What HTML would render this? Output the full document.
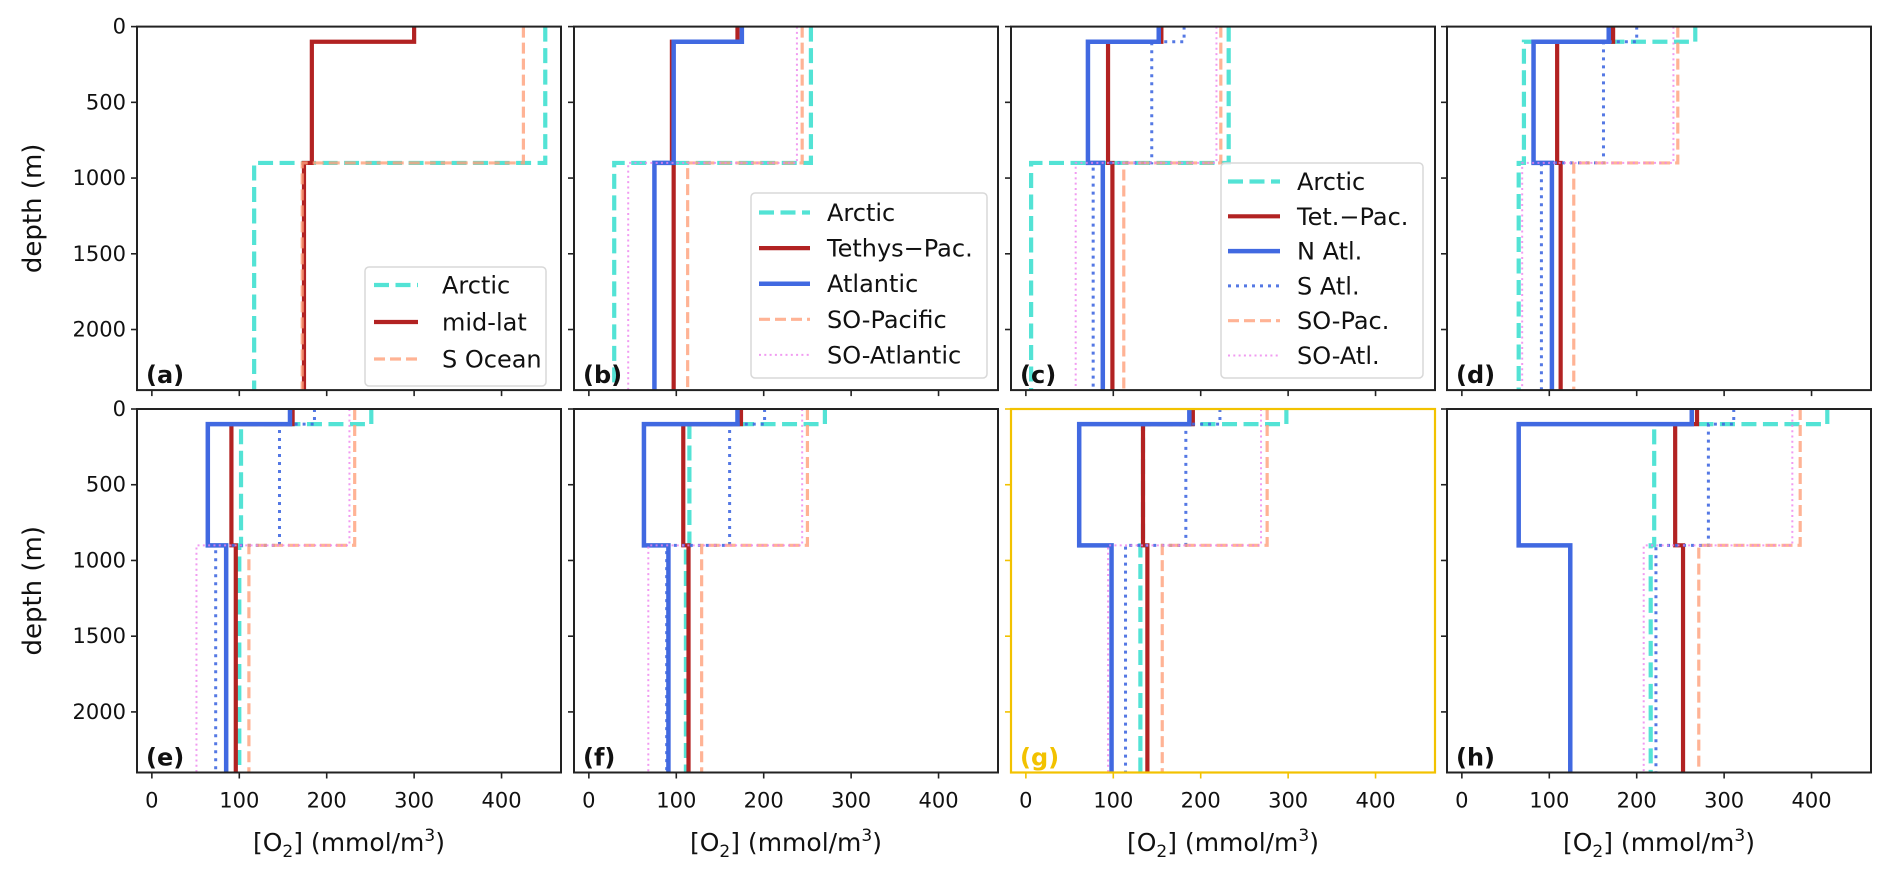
<!DOCTYPE html>
<html><head><meta charset="utf-8">
<style>
html,body{margin:0;padding:0;background:#fff;}
svg{display:block;font-family:"DejaVu Sans","Liberation Sans",sans-serif;}
</style></head>
<body>
<svg id="fig" width="1892" height="875" viewBox="0 0 1892 875" xmlns="http://www.w3.org/2000/svg"></svg>
<script>
// ---- data (per panel a..h) ----
const panelLabels = ["(a)","(b)","(c)","(d)","(e)","(f)","(g)","(h)"];
const xTicks = [0,100,200,300,400];
const yTicks = [0,500,1000,1500,2000];
const layerDepths = [0,100,900,2400];
const arcticSurf = [450,254,232,267,251,270,298,418];
const arcticMid  = [450,254,232,71,102,115,134,220];
const arcticDeep = [117,29,6,65,100,111,131,216];
const redSurf = [300,170,155,173,161,174,191,269];
const redMid  = [183,95,94,109,91,108,134,244];
const redDeep = [174,97,99,113,96,114,139,253];
const blueSurf = [null,175,152,168,158,170,187,263];
const blueMid  = [null,97,71,82,64,63,61,65];
const blueDeep = [null,75,88,103,85,91,98,124];
const satlSurf = [null,null,181,200,186,201,222,311];
const satlMid  = [null,null,144,162,146,161,183,282];
const satlDeep = [null,null,77,91,73,89,114,222];
const sopacSurf = [425,244,223,247,232,250,276,387];
const sopacMid  = [425,244,223,247,232,250,276,387];
const sopacDeep = [172,113,112,128,111,129,156,271];
const soatlSurf = [null,238,218,242,226,244,269,378];
const soatlMid  = [null,238,218,242,226,244,269,378];
const soatlDeep = [null,45,57,69,51,68,94,208];
const legendA = ["Arctic","mid-lat","S Ocean"];
const legendB = ["Arctic","Tethys\u2212Pac.","Atlantic","SO-Pacific","SO-Atlantic"];
const legendC = ["Arctic","Tet.\u2212Pac.","N Atl.","S Atl.","SO-Pac.","SO-Atl."];

// ---- styles ----
const styles = {
  arctic:{c:"#40e0d0",w:4.2,d:"15,6.5",o:0.9},
  red:{c:"#b22222",w:4.2,d:null,o:1},
  blue:{c:"#4169e1",w:4.5,d:null,o:1},
  satl:{c:"#4169e1",w:3,d:"3,5",o:0.9},
  sopac:{c:"#ffa07a",w:3.2,d:"11,5",o:0.8},
  soatl:{c:"#ee82ee",w:2,d:"2,3.3",o:0.8}
};
const series = [
  ["arctic",arcticSurf,arcticMid,arcticDeep],
  ["red",redSurf,redMid,redDeep],
  ["blue",blueSurf,blueMid,blueDeep],
  ["satl",satlSurf,satlMid,satlDeep],
  ["sopac",sopacSurf,sopacMid,sopacDeep],
  ["soatl",soatlSurf,soatlMid,soatlDeep]
];

const NS="http://www.w3.org/2000/svg";
const svg=document.getElementById("fig");
function mk(tag,attrs,parent){const e=document.createElementNS(NS,tag);for(const k in attrs)e.setAttribute(k,attrs[k]);(parent||svg).appendChild(e);return e;}

const lefts=[137,574,1011,1447], tops=[26.6,409], W=424, H=363.5;
const XMIN=-17, XMAX=468, YMAX=2400;
const GOLD="#f2c200";

for(let p=0;p<8;p++){
  const col=p%4,row=Math.floor(p/4);
  const L=lefts[col],T=tops[row];
  const sx=v=>L+(v-XMIN)/(XMAX-XMIN)*W;
  const sy=d=>T+d/YMAX*H;
  const frameCol=(p===6)?GOLD:"#222";
  const g=mk("g",{});
  
  
  series.forEach(s=>{
    const [key,a,b,c]=s; if(a[p]==null) return;
    const st=styles[key];
    const vals=[a[p],b[p],c[p]];
    let d="M"+sx(vals[0])+","+sy(layerDepths[0]);
    for(let i=0;i<3;i++){
      if(i>0) d+=" L"+sx(vals[i])+","+sy(layerDepths[i]);
      d+=" L"+sx(vals[i])+","+sy(layerDepths[i+1]);
    }
    const path=mk("path",{d:d,fill:"none",stroke:st.c,"stroke-width":st.w,"stroke-opacity":st.o,"stroke-linejoin":"miter"},g);
    if(st.d) path.setAttribute("stroke-dasharray",st.d);
    
    
  });
  const fr=mk("rect",{x:L,y:T,width:W,height:H,fill:"none",stroke:frameCol,"stroke-width":(p===6?2.2:2)},g);
  
  
  xTicks.forEach(v=>{
    const x=sx(v);
    const t=mk("line",{x1:x,x2:x,y1:T+H,y2:T+H+6,stroke:frameCol,"stroke-width":1.6},g);
    
    
    if(row===1){
      const tx=mk("text",{x:x,y:T+H+35,"font-size":21,"text-anchor":"middle",fill:"#111"},g);
      tx.textContent=v;
      
      
    }
  });
  yTicks.forEach(v=>{
    const y=sy(v);
    const t=mk("line",{x1:L-6,x2:L,y1:y,y2:y,stroke:frameCol,"stroke-width":1.6},g);
    
    
    if(col===0){
      const tx=mk("text",{x:L-11,y:y+7,"font-size":21,"text-anchor":"end",fill:"#111"},g);
      tx.textContent=v;
      
      
    }
  });
  const pl=mk("text",{x:L+9,y:T+H-7,"font-size":24,"font-weight":"bold",fill:(p===6?GOLD:"#111")},g);
  pl.textContent=panelLabels[p];
  
  
  if(row===1){
    const xl=mk("text",{x:L+W/2,y:851,"font-size":25,"text-anchor":"middle",fill:"#111"},g);
    xl.innerHTML='[O<tspan font-size="17" dy="6">2</tspan><tspan dy="-6">] (mmol/m</tspan><tspan font-size="17" dy="-10">3</tspan><tspan dy="10">)</tspan>';
    
    
  }
  if(col===0){
    const cy=T+H/2;
    const yl=mk("text",{x:0,y:0,"font-size":26,"text-anchor":"middle",fill:"#111",transform:"translate(41,"+cy+") rotate(-90)"},g);
    yl.textContent="depth (m)";
    
    
  }
}

function legend(box,names,keys,rowY,hx1,hx2,tx){
  const g=mk("g",{});
  
  
  mk("rect",{x:box[0],y:box[1],width:box[2],height:box[3],rx:4,fill:"#fff","fill-opacity":0.85,stroke:"#d8d8d8","stroke-width":1.5},g);
  names.forEach((n,i)=>{
    const st=styles[keys[i]];
    const y=rowY[0]+i*rowY[1];
    const ln=mk("line",{x1:hx1,x2:hx2,y1:y,y2:y,stroke:st.c,"stroke-width":st.w,"stroke-opacity":st.o},g);
    if(st.d) ln.setAttribute("stroke-dasharray",st.d);
    
    
    const t=mk("text",{x:tx,y:y+8.5,"font-size":24,fill:"#111"},g);
    t.textContent=n;
    
    
  });
}
legend([365,267,181,119],legendA,["arctic","red","sopac"],[285,37],374,418,442);
legend([751,193,236,185],legendB,["arctic","red","blue","sopac","soatl"],[212.5,35.6],759,810,827);
legend([1221,163,202,215],legendC,["arctic","red","blue","satl","sopac","soatl"],[181.5,34.8],1228,1280,1297);
</script>
</body></html>
